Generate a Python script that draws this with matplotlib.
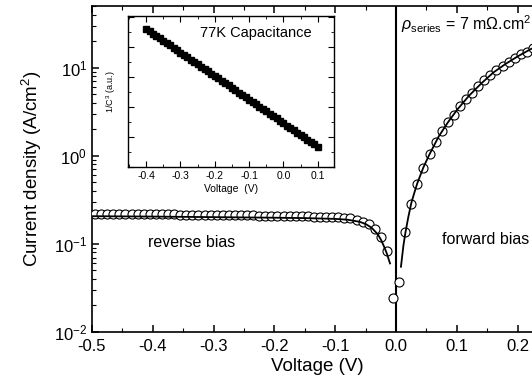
import numpy as np
import matplotlib
matplotlib.use("Agg")
import matplotlib.pyplot as plt
from matplotlib.ticker import MultipleLocator, LogLocator, NullFormatter

plt.rcParams['font.family'] = ['Liberation Sans', 'DejaVu Sans']
plt.rcParams['mathtext.fontset'] = 'custom'
plt.rcParams['mathtext.rm'] = 'Liberation Sans'
plt.rcParams['mathtext.it'] = 'Liberation Sans:italic'
plt.rcParams['axes.unicode_minus'] = False

# measured J-V points (circles), one every 10 mV
v_rev = np.round(np.arange(-0.495, 0.0, 0.01), 3)
j_rev = [0.220, 0.220, 0.219, 0.219, 0.219, 0.218, 0.218, 0.218, 0.217, 0.217,
         0.217, 0.216, 0.216, 0.216, 0.215, 0.215, 0.214, 0.214, 0.214, 0.213,
         0.213, 0.212, 0.212, 0.211, 0.211, 0.210, 0.210, 0.209, 0.209, 0.208,
         0.207, 0.207, 0.206, 0.206, 0.205, 0.205, 0.204, 0.203, 0.203, 0.202,
         0.201, 0.199, 0.195, 0.187, 0.178, 0.167, 0.148, 0.120, 0.083, 0.024]
v_fwd = np.round(np.arange(0.005, 0.24, 0.01), 3)
j_fwd = [0.037, 0.137, 0.285, 0.48, 0.73, 1.05, 1.42, 1.92, 2.39, 2.92, 3.70, 4.44,
         5.20, 6.24, 7.31, 8.32, 9.5, 10.5, 11.7, 13.0, 14.1, 15.2, 16.5, 17.8]

# fitted curves
v_fit_rev = [-0.5, -0.4, -0.3, -0.2, -0.15, -0.1, -0.08, -0.06, -0.05, -0.04, -0.03, -0.025, -0.02, -0.015, -0.01]
j_fit_rev = [0.206, 0.204, 0.201, 0.198, 0.196, 0.192, 0.188, 0.178, 0.168, 0.152, 0.128, 0.112, 0.094, 0.077, 0.060]
v_fit_fwd = [0.008, 0.012, 0.015, 0.02, 0.025, 0.03, 0.035, 0.045, 0.055, 0.07, 0.085, 0.1, 0.12, 0.14, 0.16, 0.18, 0.2, 0.22, 0.24]
j_fit_fwd = [0.055, 0.095, 0.13, 0.2, 0.29, 0.38, 0.49, 0.74, 1.04, 1.65, 2.38, 3.3, 4.8, 6.6, 8.8, 11.0, 13.4, 16.0, 18.7]

# inset: 1/C^3 vs voltage
v_cap = np.round(np.arange(-0.40, 0.101, 0.01), 3)
c_cap = [4.60, 4.52, 4.44, 4.36, 4.29, 4.21, 4.13, 4.05, 3.97, 3.89,
         3.81, 3.74, 3.66, 3.58, 3.50, 3.42, 3.34, 3.27, 3.19, 3.11,
         3.03, 2.95, 2.87, 2.79, 2.72, 2.64, 2.56, 2.48, 2.40, 2.32,
         2.24, 2.17, 2.09, 2.01, 1.93, 1.85, 1.77, 1.69, 1.62, 1.54,
         1.46, 1.38, 1.30, 1.22, 1.14, 1.06, 0.99, 0.91, 0.83, 0.75, 0.67]

fig = plt.figure(figsize=(5.32, 3.9), dpi=100)
ax = fig.add_axes([0.1729, 0.1487, 0.846, 0.836])

ax.plot(v_rev, j_rev, 'o', mfc='white', mec='black', ms=6.5, mew=0.8, zorder=3)
ax.plot(v_fwd, j_fwd, 'o', mfc='white', mec='black', ms=6.5, mew=0.8, zorder=3)
ax.plot(v_fit_rev, j_fit_rev, '-', color='black', lw=1.3, zorder=4)
ax.plot(v_fit_fwd, j_fit_fwd, '-', color='black', lw=1.3, zorder=4)
ax.axvline(0, color='black', lw=1.5, zorder=2)

ax.set_yscale('log')
ax.set_xlim(-0.5, 0.24)
ax.set_ylim(0.01, 50)
ax.xaxis.set_major_locator(MultipleLocator(0.1))
ax.xaxis.set_minor_locator(MultipleLocator(0.05))
ax.yaxis.set_minor_locator(LogLocator(base=10, subs=np.arange(2, 10)))
ax.yaxis.set_minor_formatter(NullFormatter())
ax.tick_params(which='both', direction='in', top=True, right=True, labelsize=12)
ax.tick_params(axis='x', pad=5)
ax.tick_params(which='major', length=5, width=1.1)
ax.tick_params(which='minor', length=3, width=0.8)
ax.set_xticks([-0.5, -0.4, -0.3, -0.2, -0.1, 0.0, 0.1, 0.2])
ax.set_xticklabels(['-0.5', '-0.4', '-0.3', '-0.2', '-0.1', '0.0', '0.1', '0.2'])
for s in ax.spines.values():
    s.set_linewidth(1.2)

ax.set_xlabel('Voltage (V)', fontsize=13.5, labelpad=3)
ax.set_ylabel('Current density (A/cm$^2$)', fontsize=13.5, labelpad=7)

ax.text(-0.408, 0.103, 'reverse bias', fontsize=11.5, va='center', ha='left')
ax.text(0.075, 0.111, 'forward bias', fontsize=11.5, va='center', ha='left')
ax.text(0.008, 31, r'$\rho_{\rm series}$ = 7 m$\Omega$.cm$^2$', fontsize=11.5, va='center', ha='left')

# inset
ins = fig.add_axes([0.2406, 0.5718, 0.387, 0.387])
ins.plot(v_cap, c_cap, 's', color='black', ms=5, zorder=3)
ins.set_xlim(-0.453, 0.147)
ins.set_ylim(0, 5.03)
ins.xaxis.set_major_locator(MultipleLocator(0.1))
ins.xaxis.set_minor_locator(MultipleLocator(0.05))
ins.yaxis.set_major_locator(MultipleLocator(1))
ins.yaxis.set_minor_locator(MultipleLocator(0.5))
ins.set_yticklabels([])
ins.tick_params(which='both', direction='in', top=True, right=True, labelsize=7.5, pad=3)
ins.tick_params(which='major', length=4, width=0.8)
ins.tick_params(which='minor', length=2, width=0.6)
ins.set_xticks([-0.4, -0.3, -0.2, -0.1, 0.0, 0.1])
ins.set_xticklabels(['-0.4', '-0.3', '-0.2', '-0.1', '0.0', '0.1'])
ins.set_xlabel('Voltage  (V)', fontsize=7.5, labelpad=2)
ins.set_ylabel('1/C$^3$ (a.u.)', fontsize=6.5, labelpad=4)
ins.text(-0.242, 4.47, '77K Capacitance', fontsize=10.5, va='center', ha='left')
for s in ins.spines.values():
    s.set_linewidth(1.0)

fig.savefig('out.png', dpi=100)
